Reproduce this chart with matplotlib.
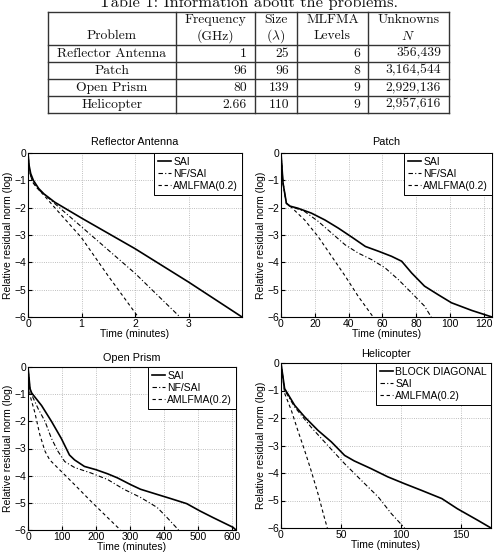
import matplotlib
matplotlib.use("Agg")
import matplotlib.pyplot as plt

plt.rcParams["font.family"] = ["Liberation Sans", "DejaVu Sans"]
plt.rcParams["mathtext.fontset"] = "cm"

#%% Table data
problems = ["Reflector Antenna", "Patch", "Open Prism", "Helicopter"]
frequency = ["1", "96", "80", "2.66"]
size = ["25", "96", "139", "110"]
levels = ["6", "8", "9", "9"]
unknowns = ["356,439", "3,164,544", "2,929,136", "2,957,616"]

#%% Convergence data (time in minutes, log10 residual)
refl_sai_t = [0, 0.02, 0.05, 0.1, 0.2, 0.3, 0.5, 1.0, 2.0, 3.0, 4.0]
refl_sai_r = [0, -0.45, -0.75, -1.0, -1.3, -1.5, -1.8, -2.38, -3.5, -4.72, -6.0]
refl_nf_t = [0, 0.02, 0.05, 0.1, 0.2, 0.3, 0.5, 1.0, 2.0, 2.84]
refl_nf_r = [0, -0.5, -0.85, -1.1, -1.35, -1.5, -1.85, -2.7, -4.4, -6.0]
refl_am_t = [0, 0.02, 0.05, 0.1, 0.2, 0.3, 0.5, 1.0, 1.5, 2.06]
refl_am_r = [0, -0.5, -0.85, -1.1, -1.35, -1.55, -2.0, -3.1, -4.5, -6.0]

patch_sai_t = [0, 1.2, 3.2, 5.1, 10, 18, 26, 34, 42, 50, 58, 65.5, 71.5, 77.4, 85, 93, 101, 113, 125]
patch_sai_r = [0, -1.1, -1.84, -1.94, -2.02, -2.2, -2.45, -2.75, -3.08, -3.42, -3.6, -3.78, -3.96, -4.39, -4.87, -5.18, -5.48, -5.76, -6.0]
patch_nf_t = [0, 1.2, 3.2, 6, 14, 22, 30, 38, 45.7, 53.7, 61.6, 69.5, 77.4, 85, 89]
patch_nf_r = [0, -1.1, -1.84, -1.96, -2.14, -2.5, -2.93, -3.36, -3.66, -3.9, -4.2, -4.63, -5.12, -5.6, -6.0]
patch_am_t = [0, 1.2, 3.2, 6, 14, 22, 30, 38, 45.7, 54.6]
patch_am_r = [0, -1.1, -1.84, -1.98, -2.45, -3.06, -3.78, -4.5, -5.24, -6.0]

prism_sai_t = [0, 6, 11, 40, 69, 98, 122, 137, 166, 200, 234, 263, 302, 331, 380, 419, 467, 506, 544, 603, 612]
prism_sai_r = [0, -0.8, -0.96, -1.42, -2.0, -2.63, -3.24, -3.42, -3.66, -3.78, -3.93, -4.08, -4.33, -4.5, -4.69, -4.84, -5.03, -5.3, -5.54, -5.9, -6.0]
prism_nf_t = [0, 6, 10, 30, 50, 69, 88, 108, 137, 185, 234, 282, 331, 380, 409, 443]
prism_nf_r = [0, -0.85, -1.0, -1.54, -2.0, -2.63, -3.1, -3.48, -3.7, -3.9, -4.14, -4.5, -4.8, -5.17, -5.54, -6.0]
prism_am_t = [0, 6, 20, 35, 50, 64, 88, 137, 185, 234, 272]
prism_am_r = [0, -1.05, -1.67, -2.5, -3.1, -3.42, -3.72, -4.33, -4.94, -5.54, -6.0]

heli_bd_t = [0, 3, 11.4, 19.7, 30.8, 42, 53, 61, 75, 89, 103, 117, 134, 147, 164, 175]
heli_bd_r = [0, -0.93, -1.54, -1.96, -2.45, -2.87, -3.36, -3.56, -3.84, -4.14, -4.39, -4.63, -4.93, -5.3, -5.72, -6.0]
heli_sai_t = [0, 3, 11.4, 25, 39, 53, 67, 81, 92, 103]
heli_sai_r = [0, -0.99, -1.6, -2.33, -3.0, -3.66, -4.27, -4.87, -5.48, -6.0]
heli_am_t = [0, 3, 8.6, 14, 19.7, 25, 30.8, 36, 38.6]
heli_am_r = [0, -1.1, -1.72, -2.45, -3.18, -3.9, -4.75, -5.6, -6.0]

W, H = 501, 554
fig = plt.figure(figsize=(W / 100, H / 100), dpi=100)

#%% Table
tab = fig.add_axes([0, 0, 1, 1])
tab.set_xlim(0, W)
tab.set_ylim(H, 0)
tab.axis("off")
tf = dict(family="cmr10", fontsize=9.8, color="#111111")
col_x = [48, 176, 255, 297, 368, 449]
row_y = [12, 45, 62, 79, 96, 113]
for y in row_y:
    tab.plot([col_x[0], col_x[-1]], [y, y], color="#333333", lw=1.0)
for x in col_x:
    tab.plot([x, x], [row_y[0], row_y[-1]], color="#333333", lw=1.0)
tab.text(249, 7.5, "Table 1: Information about the problems.", ha="center",
         va="baseline", family="cmr10", fontsize=11.8, color="#111111")
hdr_top = ["", "Frequency", "Size", "MLFMA", "Unknowns"]
hdr_bot = ["Problem", "(GHz)", r"($\lambda$)", "Levels", r"$N$"]
for i in range(5):
    cx = (col_x[i] + col_x[i + 1]) / 2
    tab.text(cx, 20, hdr_top[i], ha="center", va="center", **tf)
    tab.text(cx, 36, hdr_bot[i], ha="center", va="center", **tf)
for j in range(4):
    cy = (row_y[j + 1] + row_y[j + 2]) / 2
    tab.text((col_x[0] + col_x[1]) / 2, cy, problems[j], ha="center", va="center", **tf)
    tab.text(col_x[2] - 8, cy, frequency[j], ha="right", va="center", **tf)
    tab.text(col_x[3] - 8, cy, size[j], ha="right", va="center", **tf)
    tab.text(col_x[4] - 8, cy, levels[j], ha="right", va="center", **tf)
    tab.text(col_x[5] - 8, cy, unknowns[j], ha="right", va="center", **tf)


#%% Plots
def px_axes(l, r, t, b):
    return fig.add_axes([l / W, 1 - b / H, (r - l) / W, (b - t) / H])


def style(ax, title, xmax, xticks, labels, tpad):
    ax.set_xlim(0, xmax)
    ax.set_ylim(-6, 0)
    ax.set_xticks(xticks)
    ax.set_yticks(range(-6, 1))
    ax.tick_params(direction="in", labelsize=7.5, length=3, pad=1.5)
    ax.grid(True, ls=":", color="#aaaaaa", lw=0.6)
    ax.set_title(title, fontsize=7.8, pad=tpad)
    ax.set_xlabel("Time (minutes)", fontsize=7.5, labelpad=0)
    ax.set_ylabel("Relative residual norm (log)", fontsize=7.5, labelpad=1)
    leg = ax.legend(labels, loc="upper right", fontsize=7.5, fancybox=False,
                    edgecolor="black", framealpha=1, borderaxespad=0,
                    handlelength=1.3, handletextpad=0.2, labelspacing=0.2,
                    borderpad=0.38)
    leg.get_frame().set_linewidth(0.7)


solid = dict(color="black", lw=1.2)
dashdot = dict(color="black", lw=0.8, dashes=(4, 2, 1, 2))
dashed = dict(color="black", lw=0.8, dashes=(3, 2.5))

ax1 = px_axes(28, 242, 153, 317)
ax1.plot(refl_sai_t, refl_sai_r, **solid)
ax1.plot(refl_nf_t, refl_nf_r, **dashdot)
ax1.plot(refl_am_t, refl_am_r, **dashed)
style(ax1, "Reflector Antenna", 4, [0, 1, 2, 3], ["SAI", "NF/SAI", "AMLFMA(0.2)"], 6)

ax2 = px_axes(281, 492, 153, 317)
ax2.plot(patch_sai_t, patch_sai_r, **solid)
ax2.plot(patch_nf_t, patch_nf_r, **dashdot)
ax2.plot(patch_am_t, patch_am_r, **dashed)
style(ax2, "Patch", 125, [0, 20, 40, 60, 80, 100, 120], ["SAI", "NF/SAI", "AMLFMA(0.2)"], 6)

ax3 = px_axes(28, 236, 367, 530)
ax3.plot(prism_sai_t, prism_sai_r, **solid)
ax3.plot(prism_nf_t, prism_nf_r, **dashdot)
ax3.plot(prism_am_t, prism_am_r, **dashed)
style(ax3, "Open Prism", 612, [0, 100, 200, 300, 400, 500, 600], ["SAI", "NF/SAI", "AMLFMA(0.2)"], 4)

ax4 = px_axes(281, 491, 363, 528)
ax4.plot(heli_bd_t, heli_bd_r, **solid)
ax4.plot(heli_sai_t, heli_sai_r, **dashdot)
ax4.plot(heli_am_t, heli_am_r, **dashed)
style(ax4, "Helicopter", 175, [0, 50, 100, 150], ["BLOCK DIAGONAL", "SAI", "AMLFMA(0.2)"], 4)

fig.savefig("out.png", dpi=100)
